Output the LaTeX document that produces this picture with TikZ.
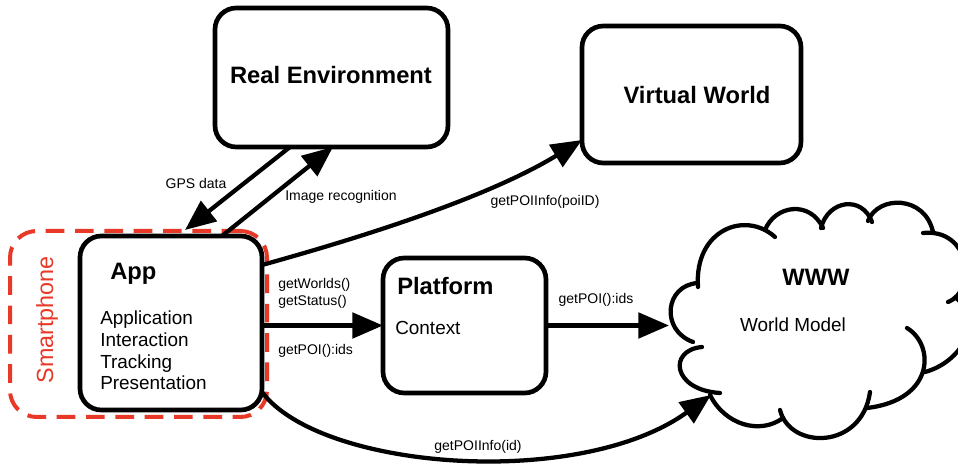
\documentclass[tikz,border=0pt]{standalone}
\usepackage{fontspec}
\setmainfont{Liberation Sans}
\usetikzlibrary{arrows.meta,calc}
\definecolor{smartred}{RGB}{232,56,40}
\begin{document}
\begin{tikzpicture}[x=0.75pt,y=-0.75pt,
  box/.style={draw, line width=3.5pt, rounded corners=16pt, inner sep=0pt, outer sep=0pt},
  arr/.style={line width=3.2pt, -{Triangle[length=23pt,width=19pt]}},
  lbl/.style={font=\fontsize{10.5}{12.75}\selectfont, inner sep=0pt, align=left},
  ttl/.style={font=\fontsize{17.8}{20}\selectfont\bfseries, inner sep=0pt},
  txt/.style={font=\fontsize{14.2}{16.3}\selectfont, inner sep=0pt, align=left},
  cloudline/.style={line width=3.2pt, line cap=round}
]
\useasboundingbox (0,0) rectangle (958,466);

% smartphone frame
\node[draw=smartred, line width=3pt, dash pattern=on 14pt off 8pt, rounded corners=20pt,
      minimum width=192.75pt, minimum height=139.5pt, inner sep=0pt, outer sep=0pt] (phone) at (138.5,324) {};
\node[rotate=90, text=smartred, font=\fontsize{17.5}{20}\selectfont, inner sep=0pt] (phonelbl) at (47,320) {Smartphone};

% boxes
\node[box, minimum width=174.75pt, minimum height=104.25pt] (re) at (331.5,77.5) {};
\node[ttl] (ret) at (331,75) {Real Environment};
\node[box, minimum width=164.25pt, minimum height=102.75pt] (vw) at (691.5,94.5) {};
\node[ttl] (vwt) at (697,95) {Virtual World};
\node[box, minimum width=136.5pt, minimum height=130.5pt] (app) at (171,323) {};
\node[ttl, anchor=west] (appt) at (110,274) {App};
\node[txt, anchor=west] (appl) at (100,350.5) {Application\\Interaction\\Tracking\\Presentation};
\node[box, minimum width=122.25pt, minimum height=101.25pt] (plat) at (464.5,325.5) {};
\node[ttl, anchor=west] (platt) at (397,286) {Platform};
\node[txt, anchor=west] (ctx) at (395,328) {Context};

% cloud
\draw[cloudline] (698,287) .. controls (694,230) and (745,210) .. (775,237);
\draw[cloudline] (765,230) .. controls (775,205) and (810,200) .. (823,228);
\draw[cloudline] (821,228) .. controls (828,200) and (862,195) .. (872,222);
\draw[cloudline] (868,221) .. controls (878,195) and (925,195) .. (933,232);
\draw[cloudline] (923,233) .. controls (970,228) and (978,290) .. (948,302);
\draw[cloudline] (956,298) .. controls (985,320) and (962,362) .. (925,372);
\draw[cloudline] (907,328) .. controls (935,345) and (935,400) .. (867,408);
\draw[cloudline] (870,392) .. controls (862,450) and (790,450) .. (780,410);
\draw[cloudline] (783,418) .. controls (760,435) and (725,425) .. (710,395);
\draw[cloudline] (720,393) .. controls (672,390) and (668,350) .. (702,347);
\draw[cloudline] (693,342) .. controls (660,330) and (665,285) .. (698,283);
\node[ttl] (www) at (816,277) {WWW};
\node[txt] (wm) at (793,325) {World Model};
\coordinate (cloudL) at (669,325.5);
\coordinate (cloudB) at (711,395);

% labels
\node[lbl] (gps) at (196,184) {GPS data};
\node[lbl] (imgrec) at (341,197) {Image recognition};
\node[lbl] (poiid) at (545,202) {getPOIInfo(poiID)};
\node[lbl, anchor=west] (gw) at (278,293.5) {getWorlds()\\getStatus()};
\node[lbl, anchor=west] (gp1) at (278,351) {getPOI():ids};
\node[lbl] (gp2) at (596,300) {getPOI():ids};
\node[lbl] (gpi) at (478,447) {getPOIInfo(id)};

% connectors
\draw[arr] ($(re.south west)+(75,0)$) -- ($(app.north west)+(105,-6)$);
\draw[arr] ($(app.north west)+(142,0)$) -- ($(re.south west)+(118,0)$);
\draw[arr] ($(app.north east)+(0,29)$) .. controls +(137,-38) and +(-82,50) .. ($(vw.south west)+(0,-23)$);
\draw[arr] (app.east |- plat.west) -- (plat.west);
\draw[arr] (plat.east) -- (cloudL);
\draw[arr] ($(app.south east)+(0,-18)$) .. controls +(58,78) and +(-132,95) .. (cloudB);
\end{tikzpicture}
\end{document}
